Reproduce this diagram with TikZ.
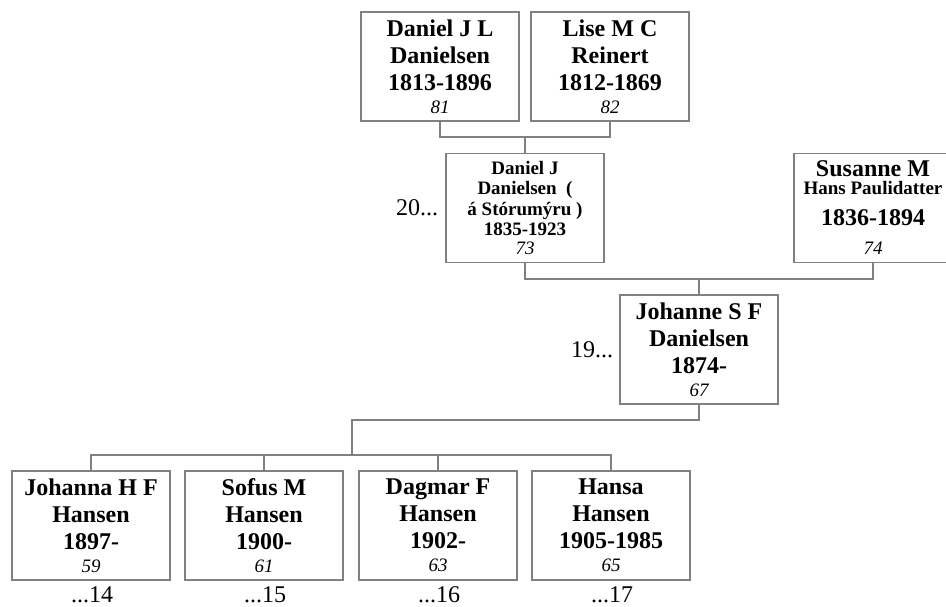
\documentclass[tikz,border=0pt]{standalone}
\usepackage{fontspec}
\setmainfont{Liberation Serif}
\usepackage{tikz}
\usetikzlibrary{calc}
\definecolor{linegray}{RGB}{128,128,128}
\newcommand{\refno}[1]{{\fontsize{19}{23}\selectfont\mdseries\itshape #1}}

\begin{document}
\begin{tikzpicture}[x=1pt, y=-1pt,
    person/.style={draw=linegray, line width=1.2pt, minimum width=158pt, minimum height=109pt,
        inner sep=0pt, align=center, font=\fontsize{24}{27}\selectfont\bfseries},
    smallperson/.style={person, font=\fontsize{19}{20.5}\selectfont\bfseries},
    link/.style={draw=linegray, line width=1.2pt},
    gen/.style={inner sep=0pt, font=\fontsize{24}{27}\selectfont}]
    \clip (0,0) rectangle (946,606);

    \node[person] (daniel) at (440,66.5) {Daniel J L\\Danielsen\\1813-1896\\[-4pt]\refno{81}};
    \node[person] (lise) at (610,66.5) {Lise M C\\Reinert\\1812-1869\\[-4pt]\refno{82}};

    \node[smallperson] (danielj) at (525,208) {Daniel J\\Danielsen~~(\\á Stórumýru )\\1835-1923\\[-1.5pt]\refno{73}};
    \node[person] (susanne) at (873,208) {Susanne M\\[-9pt]{\fontsize{19}{20}\selectfont Hans Paulidatter}\\[4pt]1836-1894\\[2pt]\refno{74}};

    \node[person] (johanne) at (699,349.5) {Johanne S F\\Danielsen\\1874-\\[-4pt]\refno{67}};

    \node[person] (johanna) at (91,525.5) {Johanna H F\\Hansen\\1897-\\[-4pt]\refno{59}};
    \node[person] (sofus) at (264,525.5) {Sofus M\\Hansen\\1900-\\[-4pt]\refno{61}};
    \node[person] (dagmar) at (438,525.5) {Dagmar F\\Hansen\\1902-\\[-4pt]\refno{63}};
    \node[person] (hansa) at (611,525.5) {Hansa\\Hansen\\1905-1985\\[-4pt]\refno{65}};

    \node[gen, anchor=east] (gen20) at ([xshift=-7pt]danielj.west) {20...};
    \node[gen, anchor=east] (gen19) at ([xshift=-6pt]johanne.west) {19...};

    \foreach \kid/\no in {johanna/14, sofus/15, dagmar/16, hansa/17} {
        \node[gen, anchor=north] (next\no) at ([xshift=1pt, yshift=-6pt]\kid.south) {...\no};
    }

    \coordinate (join1) at (525,137);
    \coordinate (join2) at (699,279);
    \coordinate (join3) at (352,420);
    \coordinate (join4) at (352,455);

    \draw[link] (daniel.south) |- (join1) -| (lise.south);
    \draw[link] (join1) -- (danielj.north);
    \draw[link] (danielj.south) |- (join2) -| (susanne.south);
    \draw[link] (join2) -- (johanne.north);
    \draw[link] (johanne.south) |- (join3) -- (join4);
    \draw[link] (johanna.north) |- (join4) -| (hansa.north);
    \foreach \kid in {sofus, dagmar} {
        \draw[link] (\kid.north) -- (\kid.north |- join4);
    }
\end{tikzpicture}
\end{document}
